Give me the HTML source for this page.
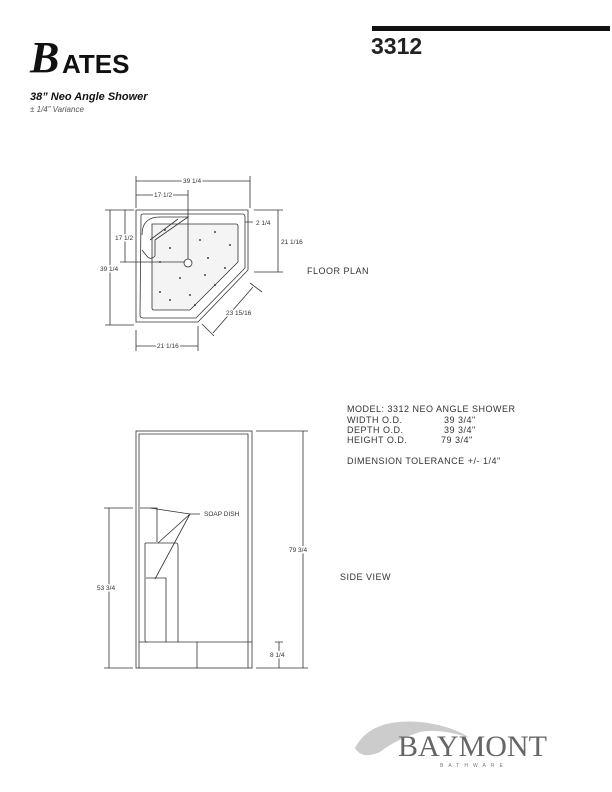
<!DOCTYPE html>
<html><head><style>
html,body{margin:0;padding:0;background:#fff;}
svg{display:block;}
.t{font-family:"Liberation Sans",sans-serif;fill:#333;}
.d{font-family:"Liberation Sans",sans-serif;font-size:6.5px;fill:#333;stroke:#fff;stroke-width:3px;paint-order:stroke;}
.m{font-family:"Liberation Sans",sans-serif;font-size:9px;fill:#333;letter-spacing:0.5px;}
</style></head><body>
<svg width="612" height="792" viewBox="0 0 612 792" xmlns="http://www.w3.org/2000/svg">
<rect x="372" y="26" width="238" height="5" fill="#111"/>
<text x="371" y="54" class="t" style="font-size:23px;font-weight:bold;fill:#222">3312</text>
<!-- Bates logo -->
<text x="30" y="72" style="font-family:'Liberation Serif',serif;font-style:italic;font-weight:bold;font-size:44px;fill:#111">B</text>
<text x="62" y="73" style="font-family:'Liberation Sans',sans-serif;font-weight:bold;font-size:26px;fill:#111">ATES</text>
<text x="30" y="100" style="font-family:'Liberation Sans',sans-serif;font-weight:bold;font-style:italic;font-size:11px;fill:#111">38” Neo Angle Shower</text>
<text x="30" y="112" style="font-family:'Liberation Sans',sans-serif;font-style:italic;font-size:8px;fill:#555">± 1/4” Variance</text>

<g fill="none" stroke="#333" stroke-width="0.8">
<!-- floor plan -->
<path d="M136,210 H248 V270 L198,322 H136 Z"/>
<path d="M141,216 Q141,214 143,214 H242 Q245,214 245,217 V268 L196,318 H143 Q140,318 140,315 Z"/>
<path d="M152,224 H236 Q238,224 238,226 V262 L190,310 H154 Q152,310 152,308 V225 Z" fill="#f4f4f4"/>
<path d="M142,235 Q142,217 160,217 H188 L155,240 V256 Q150,261 146,255 L142,250"/>
<path d="M150,240 L178,219"/>
<circle cx="188" cy="263" r="4" fill="#fff"/>
<!-- dims -->
<path d="M136,181 H250 M136,195 H188 M136,176 V208 M250,176 V208 M188,190 V259"/>
<path d="M110,210 V325 M105,210 H134 M105,325 H134 M125,210 V262 M120,262 H184"/>
<path d="M278,210 V272 M254,210 H283 M254,272 H283 M245,222 H253"/>
<path d="M136,346 H198 M136,330 V351 M198,326 V351"/>
<path d="M253,287 L213,333 M250,283 L262,292 M202,324 L214,336"/>
<!-- side view -->
<rect x="136" y="431" width="116" height="237"/>
<path d="M139,668 V434 H248 V668 M139,642 H252 M197,642 V668"/>
<path d="M140,508 H157 V542 M145,543 H176 Q178,543 178,546 V642 M145,543 V640 Q145,642 147,642 M146,578 H166 V642"/>
<path d="M150,508 L190,514 L158,543 M190,514 L155,579 M190,514 H200"/>
<path d="M104,508 H133 M109,508 V668 M104,668 H133"/>
<path d="M256,431 H308 M303,431 V668 M256,668 H308 M279,642 V668 M275,642 H283"/>
</g>
<g fill="#444">
<circle cx="200" cy="240" r="1"/><circle cx="215" cy="232" r="1"/><circle cx="170" cy="248" r="1"/><circle cx="160" cy="262" r="1"/><circle cx="180" cy="278" r="1"/><circle cx="205" cy="275" r="1"/><circle cx="225" cy="268" r="1"/><circle cx="160" cy="292" r="1"/><circle cx="190" cy="295" r="1"/><circle cx="215" cy="285" r="1"/><circle cx="170" cy="300" r="1"/><circle cx="230" cy="245" r="1"/><circle cx="165" cy="230" r="1"/><circle cx="195" cy="305" r="1"/><circle cx="208" cy="258" r="1"/>
</g>
<g class="d">
<text x="183" y="183">39 1/4</text>
<text x="154" y="197">17 1/2</text>
<text x="115" y="240">17 1/2</text>
<text x="100" y="271">39 1/4</text>
<text x="256" y="225">2 1/4</text>
<text x="281" y="244">21 1/16</text>
<text x="226" y="315">23 15/16</text>
<text x="157" y="348">21 1/16</text>
<text x="204" y="516">SOAP DISH</text>
<text x="97" y="590">53 3/4</text>
<text x="289" y="552">79 3/4</text>
<text x="270" y="657">8 1/4</text>
</g>
<g class="m">
<text x="307" y="274">FLOOR PLAN</text>
<text x="340" y="580">SIDE VIEW</text>
<text x="347" y="412">MODEL:  3312 NEO ANGLE SHOWER</text>
<text x="347" y="423">WIDTH O.D.</text><text x="444" y="423">39 3/4"</text>
<text x="347" y="433">DEPTH O.D.</text><text x="444" y="433">39 3/4"</text>
<text x="347" y="443">HEIGHT O.D.</text><text x="441" y="443">79 3/4"</text>
<text x="347" y="464">DIMENSION TOLERANCE +/- 1/4"</text>
</g>
<!-- Baymont logo -->
<path d="M355,748 Q370,718 420,722 Q450,725 470,738 Q440,728 420,732 Q395,740 380,752 Q362,760 355,748 Z" fill="#ccc"/>
<text x="398" y="756" style="font-family:'Liberation Serif',serif;font-size:30px;fill:#666">BAYMONT</text>
<text x="440" y="767" style="font-family:'Liberation Sans',sans-serif;font-size:5px;letter-spacing:5px;fill:#777">BATHWARE</text>
</svg>
</body></html>
